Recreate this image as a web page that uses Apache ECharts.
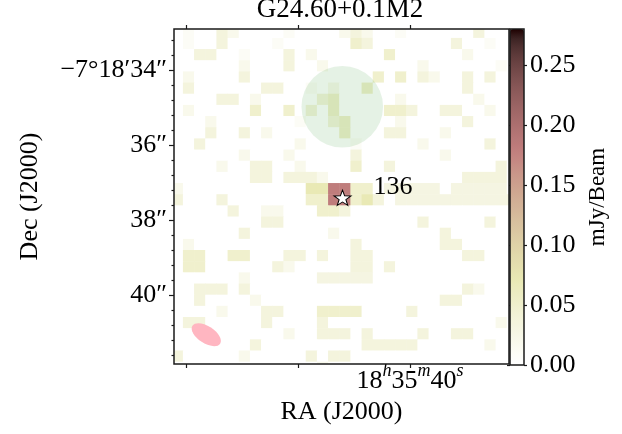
<!DOCTYPE html>
<html><head><meta charset="utf-8">
<script src="https://cdn.jsdelivr.net/npm/echarts@6/dist/echarts.min.js"></script>
<style>html,body{margin:0;padding:0;background:#fff}#chart{width:622px;height:434px}</style>
</head><body><div id="chart"></div>
<script>
const FONT = '"Liberation Serif", "DejaVu Serif", serif';

// ---- text / ticks ----
const chartTitle = 'G24.60+0.1M2';
const raTicks = [40.0, 40.2, 40.4];            // RA seconds (18h35m..)
const raLabelTicks = [40.0];
const raLabelParts = ['18', '35', '40'];
const raLabelUnits = ['h', 'm', 's'];
const decMajorTicks = [34, 36, 38, 40];         // Dec arcsec (-7°18'..)
const decMajorLabels = ['−7°18′34″', '36″', '38″', '40″'];
const decMinorTicks = [33.2, 33.6, 34.4, 34.8, 35.2, 35.6, 36.4, 36.8, 37.2, 37.6,
                       38.4, 38.8, 39.2, 39.6, 40.4, 40.8, 41.2, 41.6];
const cbarTicks = [0, 0.05, 0.10, 0.15, 0.20, 0.25];
const cbarMax = 0.28;

// ---- markers ----
const sourceName = '136';
const sourcePos = [40.1209, 37.408];           // RA s, Dec ″
const aperture = [40.1213, 34.979, 1.088];     // RA s, Dec ″, radius ″
const beam = [40.3649, 41.059, 0.44, 0.227, -33]; // RA, Dec, semi-major ″, semi-minor ″, angle°

// ---- flux map (mJy/Beam), rows top→bottom, columns left→right ----
const flux = [
[0,.01,0,0,.035,.02,0,0,0,0,.01,0,0,0,0,.02,.035,.02,0,0,.01,0,0,0,0,0,0,.035,0,0,0],
[0,.01,0,0,.035,0,0,0,0,.01,0,0,0,0,0,0,.05,.035,0,0,0,0,0,0,0,.035,0,0,.01,0,0],
[0,0,.035,.035,0,0,.01,0,0,0,.035,0,.02,0,0,0,0,0,0,.05,0,0,0,0,0,0,.02,0,0,0,0],
[0,0,0,0,0,0,.02,0,0,0,.035,0,0,.02,0,0,0,0,0,0,0,0,.02,0,0,0,0,0,0,.01,0],
[0,.02,0,0,0,0,.035,0,0,0,0,0,0,0,0,0,0,0,.05,0,.05,0,.035,.02,0,0,.035,0,.035,0,0],
[0,.035,0,0,0,0,0,0,.035,.035,0,0,.01,0,.02,0,0,.05,0,0,0,0,0,0,0,0,.035,0,0,0,0],
[0,0,0,0,.035,.035,0,.02,0,0,0,0,0,.035,.05,0,0,0,0,0,.02,0,0,0,0,0,0,.02,0,0,0],
[0,.02,0,0,0,0,0,.05,0,0,.05,0,.035,0,.05,0,0,0,0,.05,.05,.035,0,0,.035,.035,0,0,.02,0,0],
[0,0,0,.02,0,0,0,0,0,0,0,.01,0,0,.035,.05,0,0,0,0,.02,0,0,0,0,0,.035,0,0,0,0],
[0,0,0,.035,0,0,.035,0,.02,0,0,0,0,0,0,.05,0,0,0,.035,.035,0,0,0,.02,0,0,0,0,0,0],
[0,0,.035,0,0,0,0,0,0,0,0,.02,0,0,0,0,.01,0,0,0,0,0,.02,0,0,0,0,0,.035,0,0],
[0,0,0,0,0,0,.02,0,0,0,.02,0,0,0,0,0,.035,0,0,0,0,0,0,0,.02,0,0,0,0,0,0],
[0,0,0,0,.02,0,0,.035,.035,0,0,.02,0,0,0,0,.05,0,0,.035,0,0,0,0,0,0,0,0,0,.035,0],
[0,0,0,0,0,0,0,.035,.035,0,.035,.035,.035,.02,0,0,0,0,0,0,0,0,0,0,0,0,.035,.035,.035,.035,0],
[.02,0,0,0,0,0,0,0,0,0,0,0,.07,.07,.18,.18,.05,.05,0,.03,.03,.03,.03,.03,0,.03,.03,.03,.03,.03,0],
[.035,0,0,0,.035,0,0,0,0,0,0,0,.05,.05,.18,.18,.05,.07,.035,0,.03,.03,.03,.03,.03,.03,.03,.03,.03,.03,.03],
[0,0,0,0,0,.035,0,0,.02,.02,0,0,0,.05,.05,.035,0,0,0,0,0,0,0,0,0,0,0,0,0,0,0],
[0,0,0,0,0,0,0,0,.035,.035,0,0,0,0,0,0,0,0,0,0,0,0,.035,0,0,0,0,0,.035,0,0],
[0,0,0,0,0,0,.035,0,0,0,0,0,0,0,.02,0,0,0,0,0,0,0,0,0,.035,0,0,0,0,0,0],
[0,.02,0,0,0,0,0,0,0,0,0,0,0,0,0,0,.035,0,0,0,0,0,0,0,.035,.035,0,0,0,0,0],
[0,.05,.05,0,0,.05,.05,0,0,0,.035,.035,0,.035,0,0,.035,.035,0,0,0,0,0,0,0,0,.035,.035,0,0,0],
[0,.05,.05,0,0,0,0,0,0,.035,.02,0,0,0,0,0,.035,.035,0,.035,0,0,0,0,0,0,0,0,0,0,0],
[0,0,0,0,0,0,.02,0,0,0,0,0,0,.03,.03,.03,.03,.03,0,0,0,0,0,0,0,0,0,0,0,0,0],
[0,0,.035,.035,.035,0,.035,0,0,0,0,0,0,0,0,0,0,0,0,0,0,0,0,0,0,0,.035,.02,0,0,0],
[0,0,.035,0,0,0,0,.02,0,0,0,0,0,0,0,0,0,0,0,0,0,0,0,0,.035,.035,0,0,0,0,0],
[0,0,0,0,.02,0,0,0,.035,.035,0,0,0,.05,.05,.05,.05,0,0,0,0,.035,0,0,0,0,0,0,0,0,0],
[0,.035,.035,0,0,0,0,0,.035,0,0,0,0,.035,0,0,0,0,0,0,0,0,0,0,0,0,0,0,0,.02,0],
[0,0,0,0,0,0,0,0,0,0,.02,0,0,.035,.035,.035,0,.035,0,0,0,0,.035,0,0,.035,.035,0,0,0,0],
[0,0,0,0,0,0,0,.035,0,0,0,0,0,0,0,0,0,.035,.035,.035,.035,.035,0,0,0,0,0,0,.02,0,0],
[.035,0,0,0,0,0,.02,0,0,0,0,0,.035,0,.035,.035,0,0,0,0,0,0,0,0,0,0,0,0,0,0,0],
[0,0,0,0,0,0,0,0,0,0,0,0,0,.02,0,0,0,0,0,0,0,0,0,0,0,0,0,0,0,0,0]
];

// ---- map geometry (world coordinates) ----
const RA_EDGE = 40.4263, CELL_RA = 0.02;       // left edge of first column, RA seconds per pixel
const DEC_EDGE = 32.8533, CELL_DEC = 0.2977;   // top edge of first row, arcsec per pixel
const RA_MIN = 39.8227, RA_MAX = 40.4227;
const DEC_MIN = 32.9067, DEC_MAX = 41.84;

const cells = [];
flux.forEach((row, r) => row.forEach((v, c) => {
  cells.push([RA_EDGE - (c + 0.5) * CELL_RA, DEC_EDGE + (r + 0.5) * CELL_DEC, v]);
}));

// matplotlib "pink_r" colormap
function pinkR(s) {
  const t = 1 - s;
  const hr = t < 0.365079 ? 0.0416 + t * (1 - 0.0416) / 0.365079 : 1;
  const hg = t < 0.365079 ? 0 : (t < 0.746032 ? (t - 0.365079) / (0.746032 - 0.365079) : 1);
  const hb = t < 0.746032 ? 0 : (t - 0.746032) / (1 - 0.746032);
  const f = h => Math.round(255 * Math.sqrt((2 * t + h) / 3));
  return 'rgb(' + f(hr) + ',' + f(hg) + ',' + f(hb) + ')';
}
const cmap = [];
for (let i = 0; i <= 40; i++) cmap.push(pinkR(i / 40));

const STAR = 'path://M0,-10L2.35,-3.24L9.51,-3.09L3.8,1.24L5.88,8.09L0,4L-5.88,8.09L-3.8,1.24L-9.51,-3.09L-2.35,-3.24Z';
const black = '#000';
const frameColor = '#1a1a1a';
const tickStyle = () => ({ color: '#1a1a1a', width: 1.2 });
const noLine = () => ({ show: false, onZero: false });

// frame of a coordinate system, drawn on top of its content
const frameSeries = (xi, yi) => ({
  type: 'custom', xAxisIndex: xi, yAxisIndex: yi, data: [[0]], silent: true, z: 20, clip: false,
  renderItem: (params) => {
    const cs = params.coordSys;
    return { type: 'rect', shape: { x: cs.x, y: cs.y, width: cs.width, height: cs.height },
      style: { fill: 'none', stroke: frameColor, lineWidth: 1.5 } };
  }
});

const chart = echarts.init(document.getElementById('chart'), null, { renderer: 'canvas' });
chart.setOption({
  animation: false,
  backgroundColor: '#fff',
  textStyle: { fontFamily: FONT, color: black },
  graphic: [
    { type: 'text', x: 340, y: 10, z: 20,
      style: { text: chartTitle, font: '27px ' + FONT, fill: black, textAlign: 'center', textVerticalAlign: 'middle' } }
  ],
  grid: [
    { left: 174, top: 29, width: 335, height: 335, outerBoundsMode: 'none' },
    { left: 510, top: 29, width: 14, height: 336, outerBoundsMode: 'none' }
  ],
  xAxis: [
    { gridIndex: 0, type: 'value', min: RA_MIN, max: RA_MAX, inverse: true, position: 'bottom',
      axisLine: noLine(),
      axisTick: { show: true, customValues: raTicks, length: 4, lineStyle: tickStyle() },
      axisLabel: { show: true, customValues: raLabelTicks, margin: -2,
        formatter: (v) => {
          const i = raLabelTicks.indexOf(v);
          if (i < 0) return '';
          return raLabelParts.map((p, k) => '{n|' + p + '}{s|' + raLabelUnits[k] + '}').join('');
        },
        rich: {
          n: { fontSize: 26, lineHeight: 38, fontFamily: FONT, color: black },
          s: { fontSize: 18, lineHeight: 18, verticalAlign: 'top', fontStyle: 'italic', fontFamily: FONT, color: black }
        } },
      splitLine: { show: false },
      name: 'RA (J2000)', nameLocation: 'middle', nameGap: 30,
      nameTextStyle: { fontSize: 26, color: black, fontFamily: FONT } },
    { gridIndex: 0, type: 'value', min: RA_MIN, max: RA_MAX, inverse: true, position: 'top',
      axisLine: noLine(),
      axisTick: { show: true, customValues: raTicks, length: 4, lineStyle: tickStyle() },
      axisLabel: { show: false }, splitLine: { show: false } },
    { gridIndex: 1, type: 'value', min: 0, max: 1, position: 'bottom',
      axisLine: noLine(), axisTick: { show: false }, axisLabel: { show: false }, splitLine: { show: false } }
  ],
  yAxis: [
    { gridIndex: 0, type: 'value', min: DEC_MIN, max: DEC_MAX, inverse: true, position: 'left',
      axisLine: noLine(),
      axisTick: { show: true, customValues: decMajorTicks, length: 5, lineStyle: tickStyle() },
      axisLabel: { show: true, customValues: decMajorTicks, margin: 7, fontSize: 26, color: black, fontFamily: FONT,
        formatter: (v) => { const i = decMajorTicks.indexOf(v); return i < 0 ? '' : decMajorLabels[i]; } },
      splitLine: { show: false },
      name: 'Dec (J2000)', nameLocation: 'middle', nameRotate: 90, nameGap: 131,
      nameTextStyle: { fontSize: 26, color: black, fontFamily: FONT } },
    { gridIndex: 0, type: 'value', min: DEC_MIN, max: DEC_MAX, inverse: true, position: 'left',
      axisLine: noLine(),
      axisTick: { show: true, customValues: decMinorTicks, length: 2.5, lineStyle: tickStyle() },
      axisLabel: { show: false }, splitLine: { show: false } },
    { gridIndex: 1, type: 'value', min: 0, max: cbarMax, position: 'right',
      axisLine: noLine(),
      axisTick: { show: true, customValues: cbarTicks, length: 3, lineStyle: tickStyle() },
      axisLabel: { show: true, customValues: cbarTicks, margin: 6, fontSize: 26, color: black, fontFamily: FONT,
        formatter: (v) => v.toFixed(2) },
      splitLine: { show: false },
      name: 'mJy/Beam', nameLocation: 'middle', nameRotate: 90, nameGap: 62,
      nameTextStyle: { fontSize: 23, color: black, fontFamily: FONT } },
    { gridIndex: 1, type: 'value', min: 0, max: cbarMax, position: 'left',
      axisLine: noLine(),
      axisTick: { show: true, customValues: cbarTicks, length: 3, lineStyle: tickStyle() },
      axisLabel: { show: false }, splitLine: { show: false } }
  ],
  visualMap: {
    type: 'continuous', min: 0, max: cbarMax, dimension: 2, seriesIndex: 0,
    inRange: { color: cmap }, calculable: false, hoverLink: false,
    left: 510, top: 29, itemWidth: 14, itemHeight: 336, padding: 0, z: 4
  },
  series: [
    { type: 'custom', xAxisIndex: 0, yAxisIndex: 0, data: cells, encode: { x: 0, y: 1 },
      silent: true, z: 1, clip: true,
      renderItem: (params, api) => {
        const ra = api.value(0), dec = api.value(1);
        const a = api.coord([ra + CELL_RA / 2, dec - CELL_DEC / 2]);
        const b = api.coord([ra - CELL_RA / 2, dec + CELL_DEC / 2]);
        const cs = params.coordSys;
        const rect = echarts.graphic.clipRectByRect(
          { x: Math.min(a[0], b[0]) - 0.25, y: Math.min(a[1], b[1]) - 0.25,
            width: Math.abs(b[0] - a[0]) + 0.5, height: Math.abs(b[1] - a[1]) + 0.5 },
          { x: cs.x, y: cs.y, width: cs.width, height: cs.height });
        if (!rect) return;
        return { type: 'rect', shape: rect, style: { fill: api.visual('color') } };
      } },
    { type: 'custom', xAxisIndex: 0, yAxisIndex: 0, data: [[sourcePos[0], sourcePos[1]]], encode: { x: 0, y: 1 },
      silent: true, z: 3, clip: true,
      renderItem: (params, api) => {
        const c = api.coord([aperture[0], aperture[1]]);
        const r = api.size([0, aperture[2]])[1];
        const e = api.coord([beam[0], beam[1]]);
        const rx = api.size([0, beam[2]])[1], ry = api.size([0, beam[3]])[1];
        return { type: 'group', children: [
          { type: 'circle', shape: { cx: c[0], cy: c[1], r: r }, style: { fill: 'rgba(0,128,0,0.1)' } },
          { type: 'ellipse', x: e[0], y: e[1], rotation: beam[4] * Math.PI / 180,
            shape: { cx: 0, cy: 0, rx: rx, ry: ry }, style: { fill: '#ffb6c1' } }
        ] };
      } },
    { type: 'scatter', xAxisIndex: 0, yAxisIndex: 0, data: [sourcePos], z: 5, silent: true,
      symbol: STAR, symbolSize: [17, 16], symbolKeepAspect: true,
      itemStyle: { color: '#fff', borderColor: black, borderWidth: 1, opacity: 1 },
      label: { show: true, formatter: sourceName, position: 'right', distance: 22, offset: [0, -11],
        fontSize: 26, color: black, fontFamily: FONT } },
    frameSeries(0, 0),
    frameSeries(2, 2)
  ]
});
</script></body></html>
